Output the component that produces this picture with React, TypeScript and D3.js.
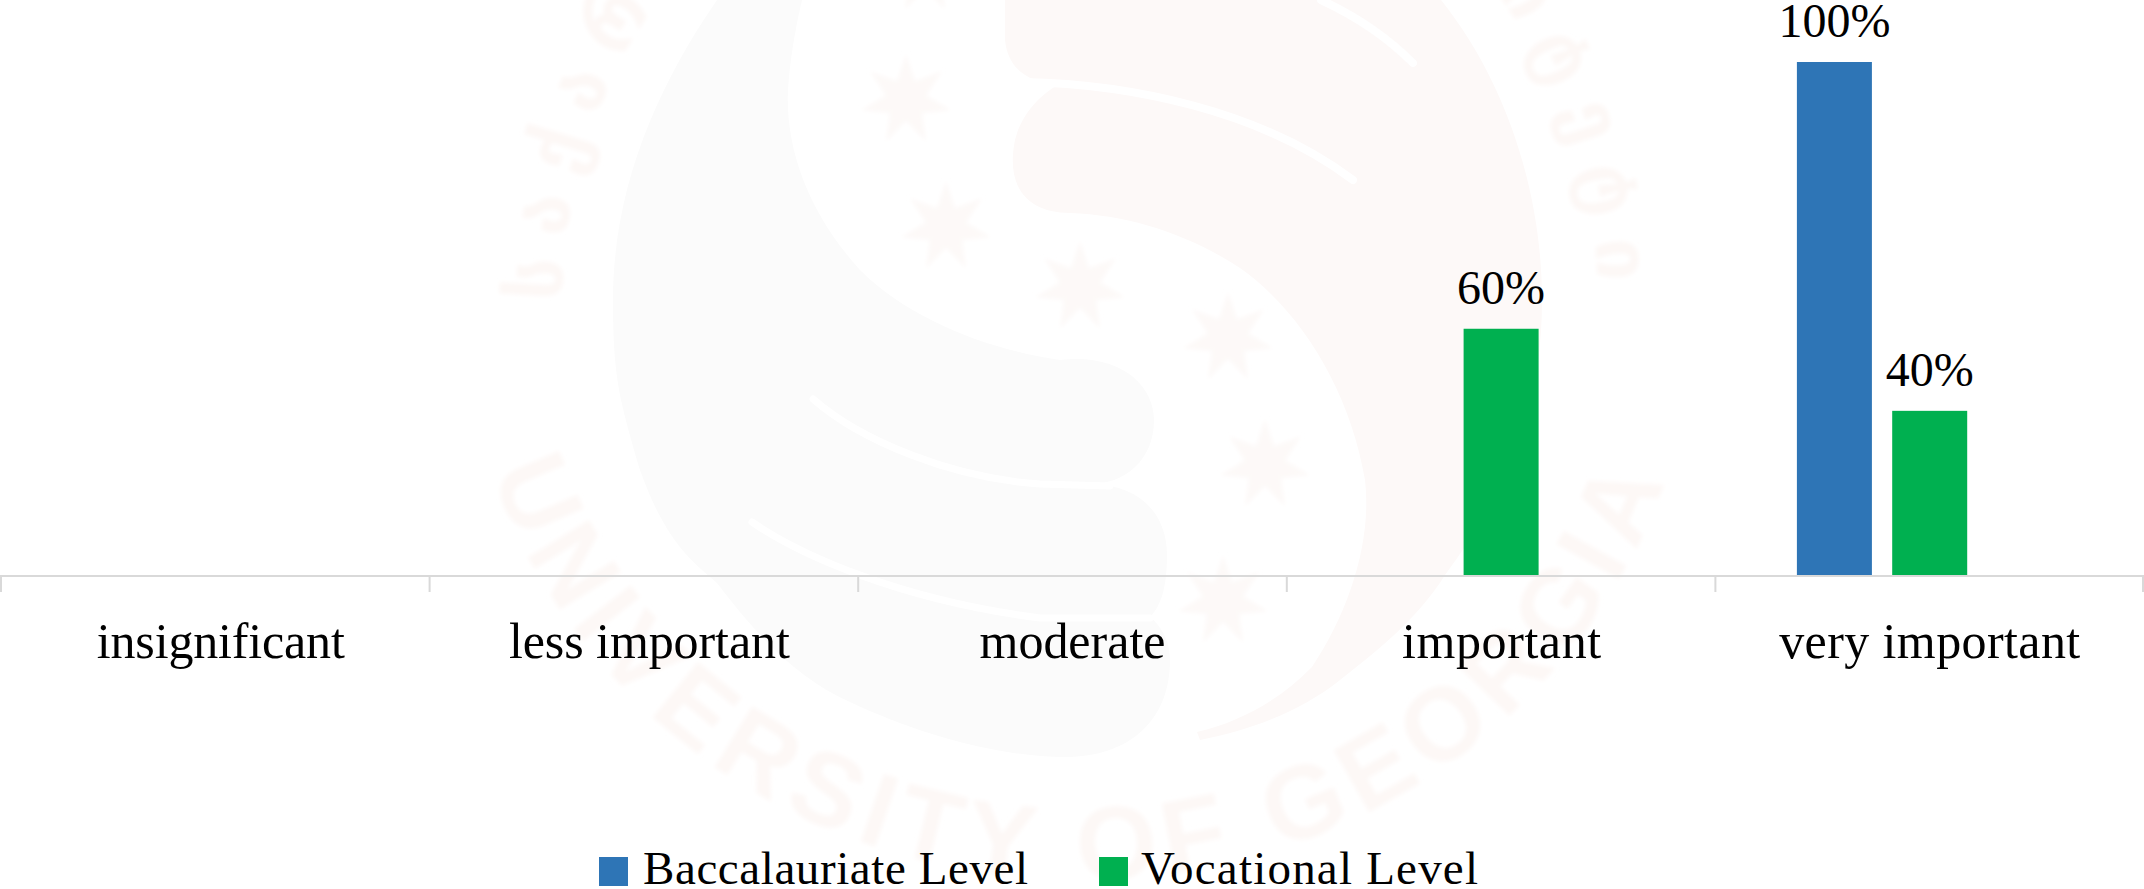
import React from "react";
import * as d3 from "d3";

const categories = ["insignificant", "less important", "moderate", "important", "very important"];
const baccalaureate: (number | null)[] = [null, null, null, null, 100];
const vocational: (number | null)[] = [null, null, null, 60, 40];
const seriesNames = ["Baccalauriate Level", "Vocational Level"];
const seriesColors = ["#2E75B6", "#00B050"];
// The reference plots the two series against different maxima.
const seriesMax = [100, 125];
const seriesValues = [baccalaureate, vocational];

const W = 2144;
const H = 889;
const FONT = "'Liberation Serif', 'Times New Roman', serif";

// Measured rendering details of the axis labels, kept apart from the data.
const labelWidths = [248, 281, 186, 199, 301];
const labelNudges = [5.5, 5.5, 0, 0.5, 0];

const WM_PINK = "#fdf9f8";
const WM_GREY = "#fbfbfb";
const WM_TEXT = "#fdf8f6";
const starCentres: [number, number][] = [
  [925, -32], [906, 100], [946, 227], [1080, 287], [1228, 338], [1265, 465], [1223, 601],
];

function starPath(cx: number, cy: number, r: number) {
  const pts: [number, number][] = [];
  for (let i = 0; i < 14; i++) {
    const rr = i % 2 === 0 ? r : r * 0.45;
    const a = (i * Math.PI) / 7 - Math.PI / 2;
    pts.push([cx + rr * Math.cos(a), cy + rr * Math.sin(a)]);
  }
  return d3.line()(pts) + "Z";
}

function Watermark() {
  return (
    <g>
      <defs>
        <filter id="wmBlur" x="-10%" y="-10%" width="120%" height="120%">
          <feGaussianBlur stdDeviation="2" />
        </filter>
        <path id="arcBottom" d="M 462 290 A 618 590 0 0 0 1698 290" fill="none" />
        <path id="arcTop" d="M 563.5 340 A 518 518 0 1 1 1596.5 340" fill="none" />
      </defs>
      {/* grey swirl */}
      <path
        fill={WM_GREY}
        d="M 717 0 C 655 90 613 190 613 300 C 613 380 620 400 640 470 C 665 540 690 560 717 583 C 760 640 800 680 850 702 C 920 735 1000 757 1065 757 C 1130 757 1170 720 1170 660 C 1170 640 1160 625 1150 617 C 1162 605 1167 585 1167 555 C 1167 510 1135 484 1090 484 C 1125 484 1154 460 1154 420 C 1154 385 1120 353 1060 360 C 990 350 910 320 860 270 C 810 215 785 150 788 90 C 790 60 795 30 802 0 Z"
      />
      {/* pink swirl */}
      <path
        fill={WM_PINK}
        d="M 1005 0 L 1005 40 C 1008 70 1030 84 1060 84 C 1060 84 1025 100 1015 140 C 1005 190 1030 213 1070 213 C 1130 215 1190 235 1240 268 C 1300 310 1350 390 1365 480 C 1372 540 1350 610 1312 667 C 1280 700 1240 722 1197 732 L 1200 740 C 1250 730 1300 712 1340 680 C 1385 645 1420 615 1445 575 C 1500 500 1542 420 1542 300 C 1542 190 1505 80 1441 0 Z"
      />
      {/* slits in the swirl */}
      <g fill="none" stroke="#ffffff" strokeLinecap="round">
        <path d="M 813 399 C 860 440 950 478 1040 484 L 1110 486" strokeWidth={7} />
        <path d="M 752 522 C 800 555 900 600 1040 618 L 1150 618" strokeWidth={7} />
        <path d="M 1023 82 C 1130 84 1260 110 1353 180" strokeWidth={8} />
        <path d="M 1321 0 C 1360 18 1390 40 1413 63" strokeWidth={8} />
      </g>
      <g filter="url(#wmBlur)">
        {starCentres.map(([x, y], i) => (
          <path key={i} d={starPath(x, y, 46)} fill={WM_PINK} />
        ))}
        <text fontFamily="'Liberation Sans', Arial, sans-serif" fontWeight={700} fontSize={104} fill={WM_TEXT}>
          <textPath href="#arcBottom" startOffset="50%" textAnchor="middle" letterSpacing={10}>
            UNIVERSITY OF GEORGIA
          </textPath>
        </text>
        <text fontFamily="'DejaVu Sans', sans-serif" fontWeight={700} fontSize={76} fill={WM_TEXT}>
          <textPath href="#arcTop" startOffset="50%" textAnchor="middle" letterSpacing={20}>
            საქართველოს უნივერსიტეტი
          </textPath>
        </text>
      </g>
    </g>
  );
}

export default function App() {
  const x = d3.scaleBand<string>().domain(categories).range([1, W]);
  // Three slots per category: the third is empty in the reference, so Vocational sits on the centre.
  const slot = d3
    .scaleBand<string>()
    .domain([...seriesNames, "(empty)"])
    .range([-132.8, 132.8])
    .paddingInner(0.213)
    .paddingOuter(0);
  const baseY = 575;
  const yScales = seriesMax.map((m) => d3.scaleLinear().domain([0, m]).range([baseY, 62]));
  const tickXs = [...categories.map((c) => x(c)!), W - 1];

  const legend = [
    { sx: 599, sw: 29, tx: 643, tw: 385 },
    { sx: 1099, sw: 29, tx: 1141, tw: 337 },
  ];

  return (
    <svg
      width={W}
      height={H}
      viewBox={`0 0 ${W} ${H}`}
      style={{ position: "absolute", left: 0, top: 0, display: "block", background: "#fff" }}
    >
      <Watermark />
      {seriesNames.map((name, si) =>
        categories.map((c, ci) => {
          const v = seriesValues[si][ci];
          if (v == null) return null;
          const cx = x(c)! + x.bandwidth() / 2;
          const bx = cx + slot(name)!;
          const top = yScales[si](v);
          return (
            <g key={name + c}>
              <rect x={bx} y={top} width={slot.bandwidth()} height={baseY - top} fill={seriesColors[si]} />
              <text
                x={bx + slot.bandwidth() / 2}
                y={top - 25}
                textAnchor="middle"
                fontFamily={FONT}
                fontSize={48}
                fill="#000"
              >
                {v}%
              </text>
            </g>
          );
        })
      )}
      <line x1={0} x2={W} y1={576} y2={576} stroke="#d9d9d9" strokeWidth={2} />
      {tickXs.map((t, i) => (
        <line key={i} x1={t} x2={t} y1={576} y2={592} stroke="#d9d9d9" strokeWidth={2} />
      ))}
      {categories.map((c, i) => (
        <text
          key={c}
          x={x(c)! + x.bandwidth() / 2 + labelNudges[i]}
          y={657.5}
          textAnchor="middle"
          textLength={labelWidths[i]}
          lengthAdjust="spacing"
          fontFamily={FONT}
          fontSize={50}
          fill="#000"
        >
          {c}
        </text>
      ))}
      {seriesNames.map((name, i) => (
        <g key={name}>
          <rect x={legend[i].sx} y={857} width={legend[i].sw} height={29} fill={seriesColors[i]} />
          <text
            x={legend[i].tx}
            y={884}
            textLength={legend[i].tw}
            lengthAdjust="spacing"
            fontFamily={FONT}
            fontSize={47}
            fill="#000"
          >
            {name}
          </text>
        </g>
      ))}
    </svg>
  );
}
